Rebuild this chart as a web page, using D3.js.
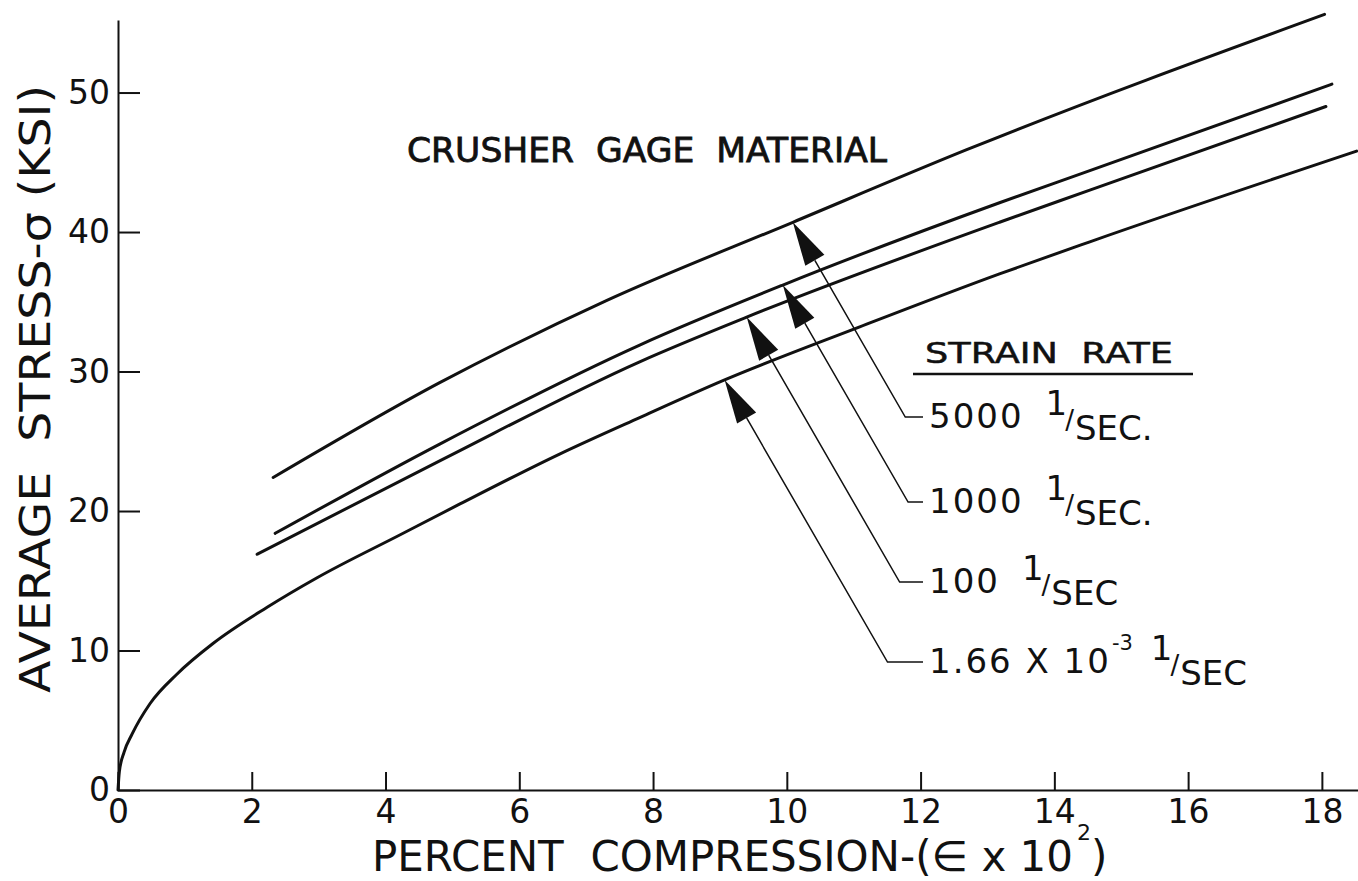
<!DOCTYPE html>
<html>
<head>
<meta charset="utf-8">
<style>
body { margin: 0; background: #fff; }
svg text { font-family: "DejaVu Sans", sans-serif; fill: #111; white-space: pre; }
.axis .domain, .axis line { stroke: #111; stroke-width: 2px; }
.axis text { font-family: "DejaVu Sans", sans-serif; font-size: 33px; fill: #111; }
</style>
</head>
<body>
<svg width="1358" height="881"></svg>
<script src="https://cdnjs.cloudflare.com/ajax/libs/d3/7.8.5/d3.min.js"></script>
<script>
// percent compression (x) and average stress in ksi (y)
var rate5000X = [2.32, 4.81, 7.31, 10.09, 12.69, 18.04];
var rate5000Y = [22.4, 29.2, 35.1, 40.7, 45.9, 55.6];

var rate1000X = [2.35, 4.81, 7.80, 9.94, 13.18, 14.53, 18.15];
var rate1000Y = [18.4, 24.8, 31.9, 36.2, 42.1, 44.4, 50.6];

var rate100X = [2.08, 4.81, 7.80, 9.40, 13.18, 14.53, 18.06];
var rate100Y = [16.9, 23.6, 30.7, 33.9, 40.7, 43.0, 49.0];

var rateStaticX = [0, 0.02, 0.09, 0.21, 0.48, 0.88, 1.42, 2.23, 2.97, 4.22, 5.07, 6.61, 7.80, 9.07, 11.09, 13.18, 14.53, 18.52];
var rateStaticY = [0, 1.3, 2.7, 4.0, 6.2, 8.3, 10.5, 13.1, 15.2, 18.3, 20.4, 24.1, 26.7, 29.4, 33.2, 37.0, 39.3, 45.8];

// strain rate labels, top to bottom, and where each arrow meets its curve
var rateNames = ["5000", "1000", "100", "1.66 X 10"];
var rateExp = ["", "", "", "-3"];
var rateUnit = ["SEC.", "SEC.", "SEC", "SEC"];
var arrowX = [10.09, 9.94, 9.40, 9.07];

var xTicks = [0, 2, 4, 6, 8, 10, 12, 14, 16, 18];
var yTicks = [0, 10, 20, 30, 40, 50];

var series = [
  {x: rate5000X, y: rate5000Y},
  {x: rate1000X, y: rate1000Y},
  {x: rate100X, y: rate100Y},
  {x: rateStaticX, y: rateStaticY}
];

var svg = d3.select("svg");

var x = d3.scaleLinear().domain([0, 18.54]).range([118, 1358]);
var y = d3.scaleLinear().domain([0, 55.2]).range([790, 20]);

// axes, ticks point inward
svg.append("g")
    .attr("class", "axis")
    .attr("transform", "translate(0,790)")
    .call(d3.axisBottom(x).tickValues(xTicks).tickSizeInner(-18).tickSizeOuter(0).tickPadding(10));

svg.append("g")
    .attr("class", "axis")
    .attr("transform", "translate(118,0)")
    .call(d3.axisLeft(y).tickValues(yTicks).tickSizeInner(-22).tickSizeOuter(0).tickPadding(8));

var line = d3.line()
    .x(function(d) { return x(d[0]); })
    .y(function(d) { return y(d[1]); })
    .curve(d3.curveMonotoneX);

svg.append("g").selectAll("path")
    .data(series)
    .enter().append("path")
      .attr("d", function(s) { return line(s.x.map(function(v, i) { return [v, s.y[i]]; })); })
      .attr("fill", "none")
      .attr("stroke", "#111")
      .attr("stroke-width", 3)
      .attr("stroke-linecap", "round");

function stressAt(s, v) {
  for (var i = 1; i < s.x.length; i++) {
    if (v <= s.x[i]) {
      var t = (v - s.x[i - 1]) / (s.x[i] - s.x[i - 1]);
      return s.y[i - 1] + t * (s.y[i] - s.y[i - 1]);
    }
  }
  return s.y[s.y.length - 1];
}

// legend header
svg.append("text")
    .attr("x", 925).attr("y", 363)
    .attr("font-size", 28)
    .attr("stroke", "#111").attr("stroke-width", 0.5)
    .attr("textLength", 248).attr("lengthAdjust", "spacingAndGlyphs")
    .text("STRAIN  RATE");
svg.append("line")
    .attr("x1", 913).attr("x2", 1193)
    .attr("y1", 374).attr("y2", 374)
    .attr("stroke", "#111").attr("stroke-width", 2.5);

// arrows and labels
var labelBase = [428, 513, 593, 673];
var labelX = 929;
var cosA = 0.5, sinA = 0.866;

series.forEach(function(s, i) {
  var tx = x(arrowX[i]), ty = y(stressAt(s, arrowX[i]));
  var bx = tx + cosA * 44, by = ty + sinA * 44;
  var hw = 11;
  svg.append("path")
      .attr("d", "M" + tx + "," + ty +
                 "L" + (bx - sinA * hw) + "," + (by + cosA * hw) +
                 "L" + (bx + sinA * hw) + "," + (by - cosA * hw) + "Z")
      .attr("fill", "#111");

  var B = labelBase[i];
  var bendY = B - 11;
  var bendX = tx + (bendY - ty) * cosA / sinA;
  svg.append("path")
      .attr("d", "M" + bx + "," + by + "L" + bendX + "," + bendY + "L" + (labelX - 6) + "," + bendY)
      .attr("fill", "none")
      .attr("stroke", "#111")
      .attr("stroke-width", 1.5);

  var main = svg.append("text")
      .attr("x", labelX).attr("y", B)
      .attr("font-size", 34)
      .attr("letter-spacing", 2)
      .text(rateNames[i]);
  var end = labelX + main.node().getComputedTextLength();
  if (rateExp[i]) {
    var ex = svg.append("text")
        .attr("x", end + 1).attr("y", B - 23)
        .attr("font-size", 21)
        .text(rateExp[i]);
    end += 1 + ex.node().getComputedTextLength();
  }
  var one = svg.append("text")
      .attr("x", end + (rateExp[i] ? 18 : 22)).attr("y", B - 13)
      .attr("font-size", 34)
      .text("1");
  var ox = end + (rateExp[i] ? 18 : 22) + one.node().getComputedTextLength() - 2;
  var sl = svg.append("text")
      .attr("x", ox).attr("y", B + 1)
      .attr("font-size", 26)
      .text("/");
  svg.append("text")
      .attr("x", ox + sl.node().getComputedTextLength() + 1).attr("y", B + 12)
      .attr("font-size", 34)
      .text(rateUnit[i]);
});

// title
svg.append("text")
    .attr("x", 407).attr("y", 162)
    .attr("font-size", 33)
    .attr("stroke", "#111").attr("stroke-width", 0.8)
    .attr("textLength", 480).attr("lengthAdjust", "spacingAndGlyphs")
    .text("CRUSHER  GAGE  MATERIAL");

// axis titles
svg.append("text")
    .attr("x", 372).attr("y", 871)
    .attr("font-size", 42)
    .attr("textLength", 701).attr("lengthAdjust", "spacingAndGlyphs")
    .text("PERCENT  COMPRESSION-(\u2208 x 10");
svg.append("text")
    .attr("x", 1077).attr("y", 840)
    .attr("font-size", 22)
    .text("2");
svg.append("text")
    .attr("x", 1091).attr("y", 871)
    .attr("font-size", 42)
    .text(")");

svg.append("text")
    .attr("transform", "translate(50,389) rotate(-90)")
    .attr("text-anchor", "middle")
    .attr("font-size", 43)
    .attr("textLength", 608).attr("lengthAdjust", "spacingAndGlyphs")
    .text("AVERAGE  STRESS-\u03c3 (KSI)");
</script>
</body>
</html>
